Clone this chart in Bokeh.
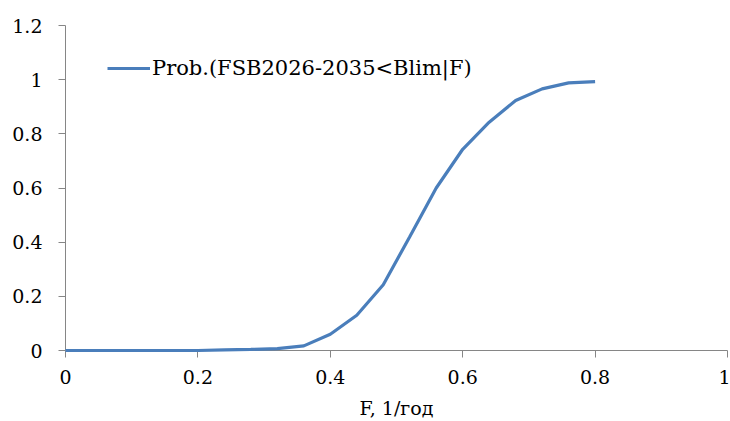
from bokeh.plotting import figure
from bokeh.models import Range1d, FixedTicker, Legend, LegendItem
from bokeh.embed import file_html
from bokeh.resources import INLINE

# Data
f_values = [0.00, 0.04, 0.08, 0.12, 0.16, 0.20, 0.24, 0.28, 0.32, 0.36, 0.40,
            0.44, 0.48, 0.52, 0.56, 0.60, 0.64, 0.68, 0.72, 0.76, 0.80]
prob_values = [0.000, 0.000, 0.000, 0.000, 0.000, 0.000, 0.002, 0.004, 0.007, 0.017, 0.060,
               0.130, 0.243, 0.420, 0.600, 0.743, 0.843, 0.923, 0.966, 0.988, 0.993]
series_name = "Prob.(FSB2026-2035<Blim|F)"
x_ticks = [0, 0.2, 0.4, 0.6, 0.8, 1]
x_tick_labels = ["0", "0.2", "0.4", "0.6", "0.8", "1"]
y_ticks = [0, 0.2, 0.4, 0.6, 0.8, 1, 1.2]
y_tick_labels = ["0", "0.2", "0.4", "0.6", "0.8", "1", "1.2"]
x_label = "F, 1/год"

FONT = "DejaVu Serif"
AXIS_COLOR = "#868686"
LINE_COLOR = "#4a7ebb"

p = figure(width=730, height=421, output_backend="svg", toolbar_location=None,
           x_range=Range1d(0, 1), y_range=Range1d(0, 1.2),
           min_border_left=65, min_border_right=3, min_border_top=25, min_border_bottom=71)
p.outline_line_color = None
p.xgrid.visible = False
p.ygrid.visible = False
p.background_fill_color = "white"
p.border_fill_color = "white"

r = p.line(f_values, prob_values, line_color=LINE_COLOR, line_width=3.2, level="overlay")

for ax in (p.xaxis[0], p.yaxis[0]):
    ax.axis_line_color = AXIS_COLOR
    ax.major_tick_line_color = AXIS_COLOR
    ax.minor_tick_line_color = None
    ax.major_tick_in = 0
    ax.major_tick_out = 7
    ax.major_label_text_font = FONT
    ax.major_label_text_font_size = "19px"
    ax.major_label_text_color = "black"

p.xaxis[0].ticker = FixedTicker(ticks=x_ticks)
p.xaxis[0].major_label_overrides = dict(zip(x_ticks, x_tick_labels))
p.xaxis[0].major_label_standoff = 12
p.xaxis[0].axis_label = x_label
p.xaxis[0].axis_label_text_font = FONT
p.xaxis[0].axis_label_text_font_size = "19px"
p.xaxis[0].axis_label_text_font_style = "normal"
p.xaxis[0].axis_label_text_color = "black"
p.xaxis[0].axis_label_standoff = 10

p.yaxis[0].ticker = FixedTicker(ticks=y_ticks)
p.yaxis[0].major_label_overrides = dict(zip(y_ticks, y_tick_labels))
p.yaxis[0].major_label_standoff = 16

legend = Legend(items=[LegendItem(label=series_name, renderers=[r])],
                location=(42, 270), padding=0, margin=0, spacing=0,
                glyph_width=43, glyph_height=20, label_height=20, label_standoff=2,
                label_text_font=FONT, label_text_font_size="21px", label_text_color="black",
                border_line_color=None, background_fill_alpha=0)
p.add_layout(legend)

html = file_html(p, INLINE)
open("out.html", "w").write(html)
